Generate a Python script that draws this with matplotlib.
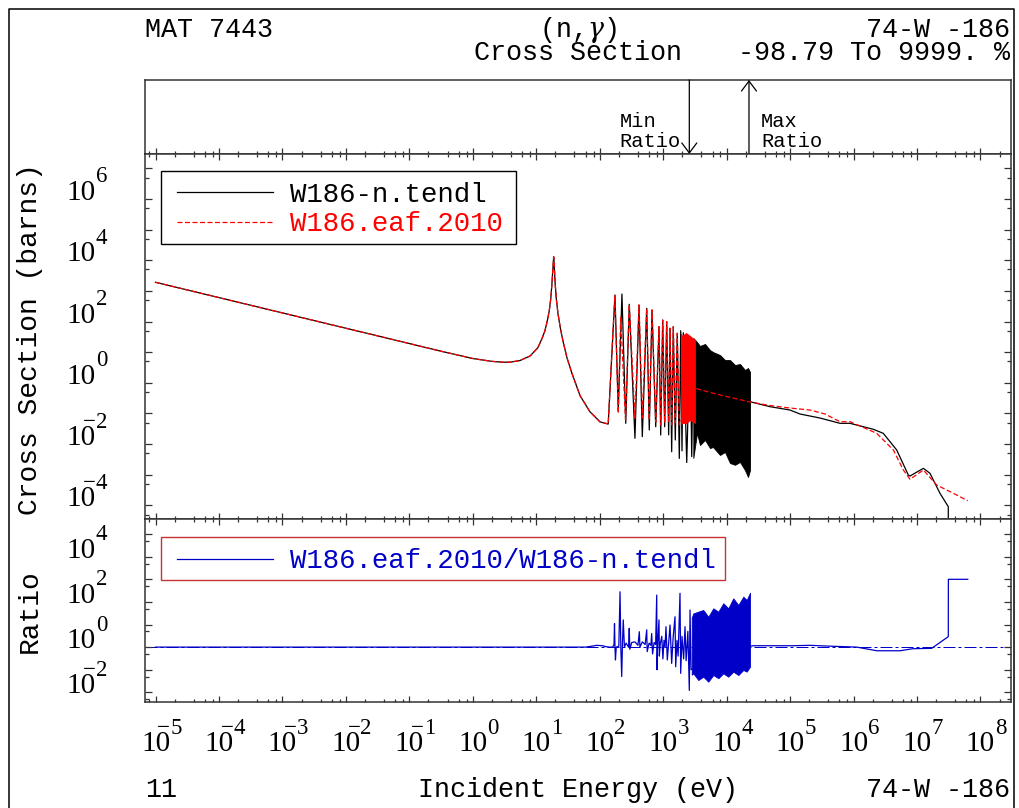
import matplotlib
matplotlib.use("Agg")
import matplotlib.pyplot as plt
import matplotlib.transforms as mtransforms
from matplotlib.lines import Line2D
from matplotlib.patches import Rectangle
from matplotlib.ticker import LogLocator, NullFormatter

plt.rcParams["mathtext.fontset"] = "dejavuserif"

# ---------------------------------------------------------------- data
# Thermal range and the 18.8 eV resonance (identical in both evaluations)
thermal_ev = [1e-5, 1e-4, 1e-3, 1e-2, 2.53e-2, 0.1, 0.3, 1.0, 2.0, 3.0, 3.86,
              5.5, 8.0, 10.6, 12.5, 13.7, 15.0, 16.0, 17.0, 17.8, 18.4, 18.8,
              19.2, 19.8, 20.7, 22.0, 24.0, 26.5, 30.5, 36.6, 49.0, 70.0, 101.0]
thermal_xs = [1910, 604, 191, 60.4, 38.0, 19.1, 11.0, 6.2, 5.0, 4.7, 4.7,
              5.3, 7.5, 14, 30, 50, 110, 220, 600, 2200, 6500, 13000,
              7000, 1900, 550, 180, 60, 22, 6.5, 2.0, 0.38, 0.114, 0.053]

# TENDL resolved resonances (alternating trough / peak)
tendl_res_ev = [136, 174, 196, 224, 257, 292, 359, 416, 469, 550,
                604, 667, 763, 859, 914, 983, 1056, 1136, 1220, 1282,
                1361, 1443, 1552, 1668, 1795, 1888, 1980, 2075, 2350, 2649,
                2818, 2985]
tendl_res_xs = [0.045, 735, 0.129, 791, 0.0475, 365, 0.0154, 346, 0.0174, 270,
                0.0287, 238, 0.0368, 67.8, 0.0197, 112, 0.0368, 98.7, 0.02, 60,
                0.0056, 67.8, 0.0136, 41.2, 0.0034, 50, 0.006, 43.2, 0.0025, 28.3,
                0.0039, 24.9]
# TENDL dense resonance band (envelope)
tendl_band_ev = [2985, 3412, 3802, 4560, 5466, 6095, 7856, 9415, 11290, 13540,
                 16240, 19480, 21710, 23350]
tendl_band_hi = [29.0, 21.4, 15.9, 18.5, 11.7, 10.1, 8.07, 5.54, 5.54, 3.80,
                 4.10, 2.61, 3.04, 2.25]
tendl_band_lo = [0.0035, 0.0229, 0.0093, 0.0136, 0.0074, 0.0080, 0.0044, 0.0055,
                 0.0024, 0.0021, 0.0026, 0.0014, 0.00084, 0.0014]
# TENDL fast range
tendl_fast_ev = [23350, 48200, 99600, 143000, 295000, 611000, 879000, 2.05e6,
                 2.94e6, 4.79e6, 7.29e6, 7.8e6, 8.25e6, 1.26e7, 1.60e7, 2.30e7,
                 3.11e7, 3.11e7]
tendl_fast_xs = [0.241, 0.166, 0.129, 0.0957, 0.0708, 0.0475, 0.0475, 0.0303,
                 0.0224, 0.00638, 0.000975, 0.00090, 0.000975, 0.00161, 0.00111,
                 0.000247, 9.0e-5, 1e-6]

# EAF-2010 resolved resonances
eaf_res_ev = [136, 173, 196, 214, 255, 292, 359, 416, 469, 550,
              604, 667, 763, 859, 914, 983, 1056, 1136, 1220, 1282,
              1361, 1443, 1552, 1668, 1795]
eaf_res_xs = [0.045, 735, 0.1, 144, 0.061, 365, 0.0708, 346, 0.0708, 270,
              0.061, 238, 0.0523, 67.8, 0.0419, 112, 0.0488, 98.7, 0.05, 60,
              0.0419, 67.8, 0.0488, 41.2, 0.0419]
eaf_band_ev = [1900, 1981, 2290, 2649, 3170]
eaf_band_hi = [40, 33.7, 42.2, 33.7, 24.9]
eaf_band_lo = [0.045, 0.0487, 0.0487, 0.061, 0.0487]
eaf_fast_ev = [3170, 7850, 23300, 48200, 99600, 206000, 355000, 611000, 879000,
               2.32e6, 4.24e6, 6.09e6, 7.76e6, 1.26e7, 2.04e7, 3.73e7, 6.3e7]
eaf_fast_xs = [0.66, 0.40, 0.236, 0.181, 0.150, 0.129, 0.0957, 0.0536, 0.0536,
               0.0224, 0.00638, 0.00142, 0.000706, 0.00142, 0.00046, 0.000247,
               0.000141]

# Ratio EAF / TENDL
ratio_res_ev = [1e-5, 60, 75, 90, 110, 125, 140, 160, 168, 171, 174, 177, 182,
                200, 209, 215, 222, 228, 235, 245, 260, 285, 292, 298, 320, 360,
                400, 421, 430, 470, 520, 550, 560, 600, 640, 659, 680, 720, 760,
                791, 800, 815, 859, 870, 900, 950, 990, 1030, 1070, 1107, 1161,
                1220, 1282, 1361, 1440, 1535, 1574, 1650, 1720, 1841, 1888, 1980,
                2100, 2208, 2300, 2450, 2581, 2649, 2750]
ratio_res_val = [1.0, 1.0, 1.1, 1.2, 1.15, 1.05, 1.0, 1.0, 1.3, 11, 1.0, 0.27,
                 1.0, 1.1, 280, 1.0, 0.05, 1.2, 16, 1.0, 1.5, 1.0, 6.8, 0.8, 1.6,
                 1.7, 1.2, 4.8, 1.0, 1.7, 1.3, 5.8, 0.63, 1.5, 1.2, 4.0, 0.5, 1.6,
                 1.3, 200, 0.1, 1.0, 16, 0.4, 1.4, 3.0, 0.3, 2.0, 1.0, 8.0, 0.27,
                 1.5, 9.5, 0.19, 3.0, 22, 0.135, 2.0, 0.4, 240, 0.069, 3.0, 0.3,
                 8.0, 0.25, 5.0, 0.0121, 44, 0.1]
ratio_band_ev = [2818, 2984, 3575, 4285, 5140, 6165, 7393, 8860, 10620, 12730,
                 15280, 18320, 20700, 23350]
ratio_band_hi = [20, 31, 37, 44, 22, 52, 37, 87, 52, 144, 73, 170, 121, 255]
ratio_band_lo = [0.06, 0.069, 0.035, 0.049, 0.0295, 0.058, 0.042, 0.069, 0.049,
                 0.082, 0.058, 0.097, 0.082, 0.136]
ratio_fast_ev = [23350, 26000, 60000, 108000, 205000, 425000, 1.12e6, 2.32e6,
                 5.4e6, 8.65e6, 1.7e7, 3.11e7, 3.12e7, 6.3e7]
ratio_fast_val = [1.1, 1.15, 1.15, 1.15, 1.2, 1.1, 1.0, 0.69, 0.69, 0.85, 0.88,
                  2.9, 1000, 1000]

min_ratio_ev = 2581
max_ratio_ev = 22500

x_label_decades = list(range(-5, 9))
xs_label_decades = [6, 4, 2, 0, -2, -4]
ratio_label_decades = [4, 2, 0, -2]

material = "MAT 7443"
reaction = "(n,$\\gamma$)"
nuclide = "74-W -186"
tendl_name = "W186-n.tendl"
eaf_name = "W186.eaf.2010"

# ---------------------------------------------------------------- style
W_PX, H_PX, DPI = 1020, 808, 100
MONO = ["Liberation Mono", "DejaVu Sans Mono"]
SERIF = ["Liberation Serif", "DejaVu Serif"]
BLUE = "#0000c8"
RED = "#ff0000"
FRAME_RED = "#c83232"
SPINE = "#333333"
LW = 0.9
EAF_DASH = (0, (4, 2))
BASE_FS, EXP_FS = 21, 16.5


def fx(px):
    return px / W_PX


def fy(py):
    return 1.0 - py / H_PX


fig = plt.figure(figsize=(W_PX / DPI, H_PX / DPI), dpi=DPI)
fig.patch.set_facecolor("white")

left, width = fx(145), (1011 - 145) / W_PX
ax_top = fig.add_axes([left, fy(154), width, (154 - 80) / H_PX])
ax_xs = fig.add_axes([left, fy(519), width, (519 - 154) / H_PX])
ax_rat = fig.add_axes([left, fy(702), width, (702 - 519) / H_PX])

XLIM = (10 ** -5.1655, 10 ** 8.481)
for ax in (ax_top, ax_xs, ax_rat):
    ax.set_xscale("log")
    ax.set_xlim(*XLIM)
    for s in ax.spines.values():
        s.set_color(SPINE)
        s.set_linewidth(1.1)
    ax.xaxis.set_major_locator(LogLocator(base=10, subs=(1.0,), numticks=40))
    ax.xaxis.set_minor_locator(LogLocator(base=10, subs=(2, 4, 6, 8), numticks=40))
    ax.xaxis.set_minor_formatter(NullFormatter())
    ax.tick_params(which="both", direction="in", colors=SPINE,
                   labelbottom=False, labeltop=False,
                   labelleft=False, labelright=False)
    ax.tick_params(axis="x", which="major", length=4.3, width=0.9)
    ax.tick_params(axis="x", which="minor", length=2.5, width=0.9)

ax_top.tick_params(axis="x", which="both", top=False, bottom=True)
ax_top.set_yticks([])
ax_top.set_ylim(0, 1)

for ax, lo, hi in ((ax_xs, 10 ** -4.447, 10 ** 7.469),
                   (ax_rat, 10 ** -2.429, 10 ** 5.668)):
    ax.set_yscale("log")
    ax.set_ylim(lo, hi)
    ax.yaxis.set_major_locator(LogLocator(base=10, subs=(1.0,), numticks=40))
    ax.yaxis.set_minor_locator(LogLocator(base=10, subs=(5.0,), numticks=40))
    ax.yaxis.set_minor_formatter(NullFormatter())
    ax.tick_params(axis="x", which="both", top=True, bottom=True)
    ax.tick_params(axis="y", which="both", left=True, right=True)
    ax.tick_params(axis="y", which="major", length=5.0, width=0.9)
    ax.tick_params(axis="y", which="minor", length=2.9, width=0.9)

# ---------------------------------------------------------------- cross sections
tendl_ev = thermal_ev + tendl_res_ev + tendl_fast_ev
tendl_xs = thermal_xs + tendl_res_xs + tendl_fast_xs
eaf_ev = thermal_ev + eaf_res_ev + eaf_fast_ev
eaf_xs = thermal_xs + eaf_res_xs + eaf_fast_xs

ax_xs.plot(tendl_ev, tendl_xs, color="black", lw=LW, zorder=2)
ax_xs.fill_between(tendl_band_ev, tendl_band_lo, tendl_band_hi,
                   color="black", lw=0.6, zorder=2)
ax_xs.plot(eaf_ev, eaf_xs, color=RED, lw=LW, ls=EAF_DASH, zorder=3)
ax_xs.fill_between(eaf_band_ev, eaf_band_lo, eaf_band_hi,
                   color=RED, lw=0.6, zorder=3)

# ---------------------------------------------------------------- ratio
ax_rat.axhline(1.0, color=BLUE, lw=0.72, ls=(0, (12, 3, 3, 3)), zorder=1)
ax_rat.plot(ratio_res_ev + ratio_fast_ev, ratio_res_val + ratio_fast_val,
            color=BLUE, lw=LW, zorder=2)
ax_rat.fill_between(ratio_band_ev, ratio_band_lo, ratio_band_hi,
                    color=BLUE, lw=0.6, zorder=2)

# ---------------------------------------------------------------- min / max arrows
all_ratio = ratio_res_val + ratio_band_lo + ratio_band_hi + ratio_fast_val
lo_pct = (min(all_ratio) - 1.0) * 100.0
hi_pct = min((max(all_ratio) - 1.0) * 100.0, 9999.0)

xa = ax_top.get_xaxis_transform()
arrow_kw = dict(arrowstyle="->,head_length=0.72,head_width=0.54",
                color="black", lw=0.9, shrinkA=0, shrinkB=0, mutation_scale=10)
ax_top.annotate("", xy=(min_ratio_ev, 0), xytext=(min_ratio_ev, 1),
                xycoords=xa, textcoords=xa, arrowprops=arrow_kw)
ax_top.annotate("", xy=(max_ratio_ev, 1), xytext=(max_ratio_ev, 0),
                xycoords=xa, textcoords=xa, arrowprops=arrow_kw)
small = dict(family=MONO, fontsize=14.7, color="black", va="baseline", ha="left")
ya_min = mtransforms.offset_copy(xa, fig=fig, x=-70, y=0, units="dots")
ya_max = mtransforms.offset_copy(xa, fig=fig, x=12, y=0, units="dots")
ax_top.text(min_ratio_ev, (154 - 127) / 74, "Min", transform=ya_min, **small)
ax_top.text(min_ratio_ev, (154 - 147) / 74, "Ratio", transform=ya_min, **small)
ax_top.text(max_ratio_ev, (154 - 127) / 74, "Max", transform=ya_max, **small)
ax_top.text(max_ratio_ev, (154 - 147) / 74, "Ratio", transform=ya_max, **small)

# ---------------------------------------------------------------- tick labels
SER = dict(family=SERIF, color="black", va="baseline", clip_on=False)
x_tr = mtransforms.blended_transform_factory(ax_rat.transData, fig.transFigure)
x_tr_exp = mtransforms.offset_copy(x_tr, fig=fig, x=14.6, y=17, units="dots")
for d in x_label_decades:
    v = 10.0 ** d
    ax_rat.text(v, fy(751), "10", transform=x_tr, ha="center", fontsize=BASE_FS, **SER)
    ax_rat.text(v, fy(751), str(abs(d)), transform=x_tr_exp, ha="left",
                fontsize=EXP_FS, **SER)
    if d < 0:
        ax_rat.text(v, fy(751), "\u2212", transform=x_tr_exp, ha="right",
                    fontsize=EXP_FS, **SER)


def y_labels(ax, decades):
    tr = mtransforms.blended_transform_factory(fig.transFigure, ax.transData)
    tr_base = mtransforms.offset_copy(tr, fig=fig, x=0, y=-1, units="dots")
    tr_exp = mtransforms.offset_copy(tr, fig=fig, x=0, y=16.5, units="dots")
    for d in decades:
        v = 10.0 ** d
        ax.text(fx(96), v, "10", transform=tr_base, ha="right", fontsize=BASE_FS, **SER)
        ax.text(fx(96), v, str(abs(d)), transform=tr_exp, ha="left",
                fontsize=EXP_FS, **SER)
        if d < 0:
            ax.text(fx(96), v, "\u2212", transform=tr_exp, ha="right",
                    fontsize=EXP_FS, **SER)


y_labels(ax_xs, xs_label_decades)
y_labels(ax_rat, ratio_label_decades)

# ---------------------------------------------------------------- legends
def legend_box(x0, y0, x1, y1, edge):
    fig.add_artist(Rectangle((fx(x0), fy(y1)), fx(x1) - fx(x0), fy(y0) - fy(y1),
                             transform=fig.transFigure, facecolor="white",
                             edgecolor=edge, lw=1.0, zorder=10))


def legend_entry(y_line, text, color, ls):
    fig.add_artist(Line2D([fx(176.7), fx(273.3)], [fy(y_line)] * 2,
                          transform=fig.transFigure, color=color, lw=LW,
                          ls=ls, zorder=11))
    fig.text(fx(290), fy(y_line + 9.4), text, color=color, family=MONO,
             fontsize=19.7, ha="left", va="baseline", zorder=11)


legend_box(160.7, 170.7, 516, 244.3, "black")
legend_entry(192.3, tendl_name, "black", "-")
legend_entry(221.7, eaf_name, RED, EAF_DASH)

legend_box(160.7, 536.7, 725, 580, FRAME_RED)
legend_entry(558.5, f"{eaf_name}/{tendl_name}", BLUE, "-")

# ---------------------------------------------------------------- page text
mono = dict(family=MONO, fontsize=19.3, color="black", va="baseline")
fig.text(fx(145), fy(37), material, ha="left", **mono)
fig.text(fx(578), fy(37), reaction, ha="center", **mono)
fig.text(fx(1010), fy(37), nuclide, ha="right", **mono)
fig.text(fx(474), fy(60), "Cross Section", ha="left", **mono)
fig.text(fx(1010), fy(60), f"{lo_pct:.2f} To {hi_pct:.0f}. %", ha="right", **mono)

fig.text(fx(145), fy(797), "11", ha="left", **mono)
fig.text(fx(578), fy(797), "Incident Energy (eV)", ha="center", **mono)
fig.text(fx(1010), fy(797), nuclide, ha="right", **mono)

fig.text(fx(30), fy(339), "Cross Section (barns)", rotation=90, ha="center",
         va="center", family=MONO, fontsize=20.2)
fig.text(fx(30), fy(611), "Ratio", rotation=90, ha="center", va="center",
         family=MONO, fontsize=20.2)

# page border
fig.add_artist(Line2D([fx(9), fx(9), fx(1014), fx(1014)],
                      [fy(812), fy(9), fy(9), fy(812)],
                      transform=fig.transFigure, color="black", lw=1.1))

fig.savefig("out.png", dpi=DPI, facecolor="white")
